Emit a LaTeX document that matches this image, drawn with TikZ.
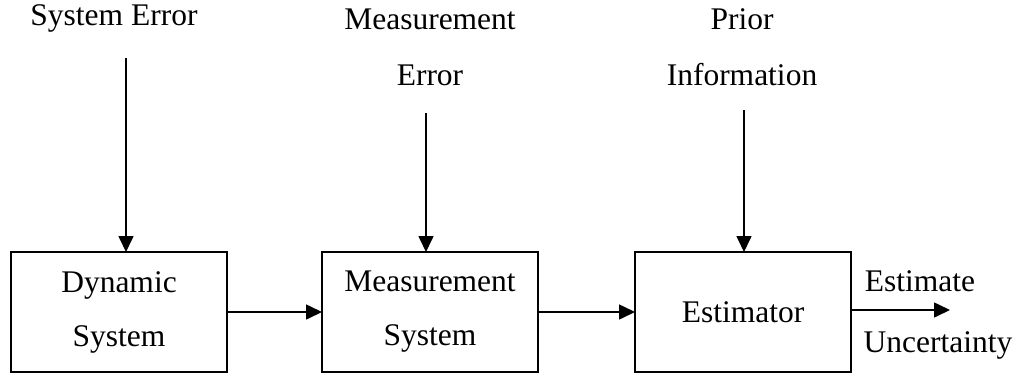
\documentclass[tikz,border=0pt]{standalone}
\usepackage{fontspec}
\setmainfont{Liberation Serif}
\usetikzlibrary{arrows.meta}
\begin{document}
\begin{tikzpicture}[x=1pt,y=-1pt,
  every node/.style={inner sep=0pt,outer sep=0pt},
  lbl/.style={align=center,font=\fontsize{31.5}{56}\selectfont},
  blk/.style={draw,line width=1.6pt,minimum width=216pt,minimum height=120pt,
    align=center,font=\fontsize{31.5}{54}\selectfont},
  flow/.style={line width=1.6pt,-{Triangle[length=16pt,width=15pt]}}]
\useasboundingbox (0,0) rectangle (1023,376);
% processing blocks
\node[blk] (dyn) at (119,312) {Dynamic\\System};
\node[blk] (meas) at (430,312) {Measurement\\System};
\node[blk] (est) at (743,312) {Estimator};
% input labels
\node[lbl] (syserr) at (114,18) {System Error};
\node[lbl] (measerr) at (430,47) {Measurement\\Error};
\node[lbl] (prior) at (742,47) {Prior\\Information};
% output labels
\node[lbl] (estout) at (920,281) {Estimate};
\node[lbl] (unc) at (938,345) {Uncertainty};
% free ends of the input and output arrows
\coordinate (in1) at (126,58);
\coordinate (in2) at (426,113);
\coordinate (in3) at (744,110);
\coordinate (out) at (950,310);
% connectors
\draw[flow] (in1) -- (in1 |- dyn.north);
\draw[flow] (in2) -- (in2 |- meas.north);
\draw[flow] (in3) -- (in3 |- est.north);
\draw[flow] (dyn.east) -- (meas.west);
\draw[flow] (meas.east) -- (est.west);
\draw[flow] (est.east |- out) -- (out);
\end{tikzpicture}
\end{document}
